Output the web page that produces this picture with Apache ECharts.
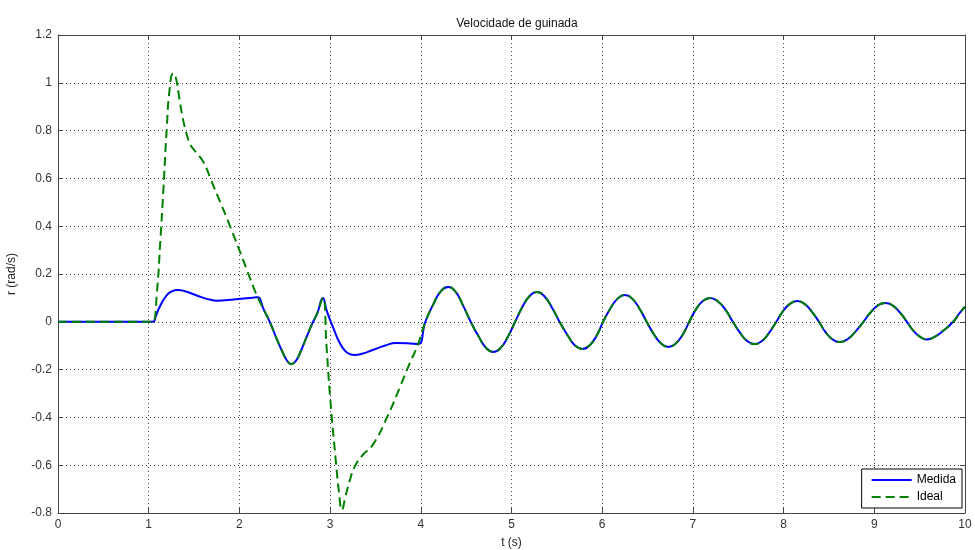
<!DOCTYPE html>
<html>
<head>
<meta charset="utf-8">
<script src="https://cdn.jsdelivr.net/npm/echarts@6/dist/echarts.min.js"></script>
<style>html,body{margin:0;padding:0;background:#fff;}#c{width:975px;height:550px;}</style>
</head>
<body>
<div id="c"></div>
<script>
// Shared part before the step
const commonStart = [[0,0],[0.9,0],[1.0,0],[1.03,0],[1.05,0]];
// Medida: 1.05 -> 2.2 s
const medidaRise = [[1.08,0.025],[1.12,0.062],[1.2,0.112],[1.26,0.128],[1.32,0.133],[1.4,0.128],[1.53,0.11],[1.65,0.095],[1.76,0.088],[1.9,0.092],[2.05,0.097],[2.17,0.102]];
// Ideal: 1.05 -> 2.2 s
const idealRise = [[1.09,0.12],[1.13,0.35],[1.16,0.54],[1.2,0.815],[1.23,0.97],[1.27,1.04],[1.3,1.02],[1.34,0.93],[1.38,0.844],[1.43,0.77],[1.46,0.74],[1.52,0.71],[1.59,0.677],[1.64,0.64],[1.68,0.6],[1.9,0.397],[2.17,0.13]];
// Shared: 2.2 -> 2.92 s
const commonMid = [[2.2,0.103],[2.27,0.05],[2.34,-0.005],[2.41,-0.07],[2.48,-0.13],[2.53,-0.165],[2.57,-0.177],[2.62,-0.165],[2.68,-0.12],[2.74,-0.064],[2.8,-0.01],[2.86,0.037],[2.92,0.1]];
// Medida: 2.92 -> 3.97 s
const medidaDip = [[2.96,0.05],[3.0,0.008],[3.05,-0.04],[3.09,-0.076],[3.16,-0.12],[3.22,-0.136],[3.27,-0.139],[3.35,-0.134],[3.47,-0.118],[3.6,-0.1],[3.73,-0.089],[3.85,-0.09]];
// Ideal: 2.92 -> 3.97 s
const idealDip = [[2.96,-0.1],[3.0,-0.315],[3.065,-0.59],[3.1,-0.72],[3.13,-0.787],[3.17,-0.73],[3.22,-0.66],[3.27,-0.607],[3.36,-0.557],[3.47,-0.515],[3.63,-0.398],[3.77,-0.273],[3.88,-0.172]];
// Shared oscillation: 3.97 -> 10 s
const commonTail = [[3.97,-0.093],[4.05,0],[4.14,0.075],[4.22,0.127],[4.3,0.146],[4.38,0.127],[4.46,0.073],[4.55,0],[4.64,-0.063],[4.72,-0.109],[4.8,-0.126],[4.88,-0.109],[4.96,-0.063],[5.04,0],[5.12,0.062],[5.2,0.108],[5.28,0.125],[5.36,0.108],[5.45,0.057],[5.53,0],[5.62,-0.057],[5.7,-0.099],[5.78,-0.114],[5.86,-0.099],[5.94,-0.057],[6.01,0],[6.09,0.056],[6.17,0.097],[6.25,0.112],[6.33,0.097],[6.41,0.056],[6.49,0],[6.57,-0.052],[6.65,-0.091],[6.73,-0.105],[6.81,-0.091],[6.89,-0.052],[6.96,0],[7.03,0.05],[7.11,0.087],[7.19,0.1],[7.27,0.087],[7.36,0.05],[7.44,0],[7.52,-0.046],[7.6,-0.081],[7.68,-0.093],[7.76,-0.081],[7.84,-0.046],[7.92,0],[7.99,0.043],[8.07,0.075],[8.15,0.087],[8.23,0.075],[8.31,0.043],[8.39,0],[8.46,-0.042],[8.54,-0.074],[8.62,-0.085],[8.7,-0.074],[8.79,-0.042],[8.88,0],[8.96,0.04],[9.04,0.069],[9.12,0.079],[9.2,0.069],[9.28,0.04],[9.36,0],[9.43,-0.037],[9.51,-0.064],[9.58,-0.074],[9.66,-0.064],[9.76,-0.037],[9.87,0],[9.94,0.036],[10,0.063]];
const xTicks = [0,1,2,3,4,5,6,7,8,9,10];
const yTicks = [-0.8,-0.6,-0.4,-0.2,0,0.2,0.4,0.6,0.8,1,1.2];

const medida = commonStart.concat(medidaRise, commonMid, medidaDip, commonTail);
const ideal = commonStart.concat(idealRise, commonMid, idealDip, commonTail);

const FONT = 'Liberation Sans';
const axisCol = '#444';
function xAx(pos, labels){
  return {type:'value', position:pos, min:xTicks[0], max:xTicks[xTicks.length-1], interval:1,
    axisLine:{show:true, onZero:false, lineStyle:{color:axisCol, width:1}},
    axisTick:{show:true, inside:true, length:5, lineStyle:{color:axisCol}},
    axisLabel:{show:labels, color:'#333', fontFamily:FONT, fontSize:12, margin:6},
    splitLine:{show:labels, lineStyle:{color:'#444', type:[1,3], width:1}},
    name: labels ? 't (s)' : '', nameLocation:'middle', nameGap:24,
    nameTextStyle:{color:'#222', fontFamily:FONT, fontSize:12}};
}
function yAx(pos, labels){
  return {type:'value', position:pos, min:yTicks[0], max:yTicks[yTicks.length-1], interval:0.2,
    axisLine:{show:true, onZero:false, lineStyle:{color:axisCol, width:1}},
    axisTick:{show:true, inside:true, length:5, lineStyle:{color:axisCol}},
    axisLabel:{show:labels, color:'#333', fontFamily:FONT, fontSize:12, margin:6,
      formatter: v => String(Math.round(v*10)/10)},
    splitLine:{show:labels, lineStyle:{color:'#444', type:[1,3], width:1}},
    name: labels ? 'r (rad/s)' : '', nameLocation:'middle', nameGap:40,
    nameTextStyle:{color:'#222', fontFamily:FONT, fontSize:12}};
}

const chart = echarts.init(document.getElementById('c'), null, {renderer:'canvas'});
chart.setOption({
  animation:false,
  backgroundColor:'#fff',
  title:{text:'Velocidade de guinada', left:512, top:13, textAlign:'center',
    textStyle:{color:'#111', fontFamily:FONT, fontSize:12, fontWeight:'normal'}},
  grid:{left:58, right:10, top:35, bottom:37, containLabel:false, outerBoundsMode:'none'},
  xAxis:[xAx('bottom', true), xAx('top', false)],
  yAxis:[yAx('left', true), yAx('right', false)],
  legend:{orient:'vertical', right:13, bottom:42, backgroundColor:'#fff', borderColor:'#000', borderWidth:1,
    borderRadius:0, padding:[5,6,5,9], itemGap:5, itemWidth:40, itemHeight:14,
    itemStyle:{color:'rgba(0,0,0,0)', borderWidth:0, opacity:0},
    textStyle:{color:'#000', fontFamily:FONT, fontSize:12},
    data:['Medida','Ideal']},
  series:[
    {name:'Medida', type:'line', data:medida, symbol:'none', showSymbol:false, smooth:0.5,
      lineStyle:{color:'#0000ff', width:2}, itemStyle:{color:'#0000ff'}},
    {name:'Ideal', type:'line', data:ideal, symbol:'none', showSymbol:false, smooth:0.5,
      lineStyle:{color:'#008000', width:2, type:[9,5]}, itemStyle:{color:'#008000'}}
  ]
});
</script>
</body>
</html>
